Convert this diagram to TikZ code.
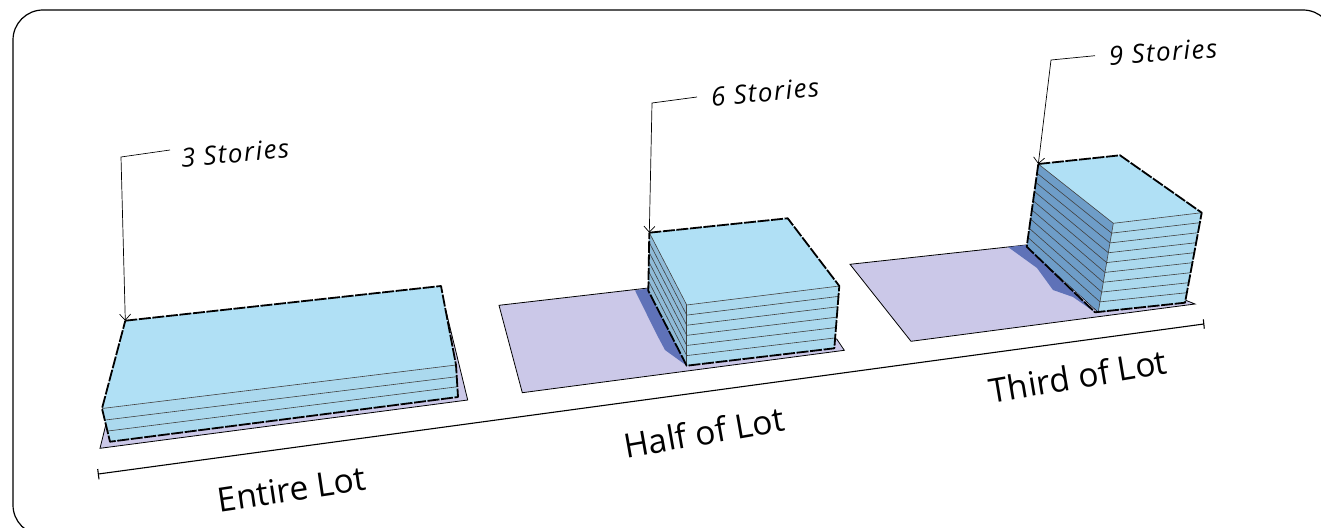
\documentclass[tikz,border=0pt]{standalone}
\usepackage{fontspec}
\setmainfont{Open Sans}
\usetikzlibrary{arrows.meta,calc}
\definecolor{roofc}{HTML}{B0E0F5}
\definecolor{frontc}{HTML}{ABD9EE}
\definecolor{sideA}{HTML}{8FBBD8}
\definecolor{sideB}{HTML}{6E9DC8}
\definecolor{lotc}{HTML}{CBC8E8}
\definecolor{shadec}{HTML}{5F72B8}
\tikzset{
  lotshape/.style={fill=lotc,draw=black,line width=0.8pt,line join=miter},
  faceline/.style={draw=black!75,line width=0.6pt},
  outline/.style={draw=black,line width=1.8pt,dash pattern=on 12pt off 1.6pt,line join=round},
  leader/.style={draw=black,line width=0.7pt,-{Straight Barb[length=6pt,width=11pt,line width=0.7pt]}},
  dim/.style={draw=black,line width=1.1pt},
  biglabel/.style={font=\fontsize{33.5}{36}\selectfont,inner sep=0pt},
  storylabel/.style={font=\itshape\fontsize{26}{28}\selectfont\addfontfeature{LetterSpace=5.5},inner sep=0pt}
}
\begin{document}
\begin{tikzpicture}[x=1pt,y=-1pt]
\useasboundingbox (0,0) rectangle (1321,527);
\begin{scope}
\clip (0,0) rectangle (1321,527);
\draw[black,line width=1.2pt,rounded corners=30pt] (13,10) rectangle (1333,535);
\end{scope}
% ---------- lot 1
\draw[lotshape] (446,311) -- (467.7,400) -- (100,448.3) -- (106,424) -- cycle;
\coordinate (a1) at (125.3,320.7);
\coordinate (a2) at (441,286);
\coordinate (a3) at (456,365);
\coordinate (a4) at (102,408.5);
\coordinate (a5) at (110,441.7);
\coordinate (a6) at (458,397);
\fill[roofc] (a1)--(a2)--(a3)--(a4)--cycle;
\fill[frontc] (a4)--(a3)--(a6)--(a5)--cycle;
\draw[faceline] (a4)--(a3);
\draw[faceline] (105.5,420)--(456.7,376.7);
\draw[faceline] (108,431)--(457.7,386.7);
\draw[outline] (a1)--(a2)--(a3)--(a6)--(a5)--(a4)--cycle;
% ---------- lot 2
\draw[lotshape] (499,305.3) -- (648.3,288) -- (700,340) -- (836.7,339) -- (844.3,350.3) -- (522.3,392.7) -- cycle;
\fill[shadec] (635,290.5)--(648.3,288.3)--(686.7,365.7)--(665,350)--(657,335)--cycle;
\coordinate (b1) at (649.3,232.7);
\coordinate (b2) at (787.7,218.3);
\coordinate (b3) at (839.3,286);
\coordinate (b4) at (686.7,305);
\coordinate (b5) at (686.7,365.7);
\coordinate (b6) at (834.3,348.3);
\coordinate (b7) at (648.3,290.7);
\fill[roofc] (b1)--(b2)--(b3)--(b4)--cycle;
\fill[frontc] (b4)--(b3)--(b6)--(b5)--cycle;
\fill[sideA] (b1)--(b4)--(b5)--(b7)--cycle;
\draw[faceline] (b1)--(b4)--(b3);
\draw[faceline] (b4)--(b5);
\foreach \k in {1,...,5}{
  \draw[faceline] ($(b4)!\k/6!(b5)$)--($(b3)!\k/6!(b6)$);
  \draw[faceline] ($(b4)!\k/6!(b5)$)--($(b1)!\k/6!(b7)$);
}
\draw[outline] (b1)--(b2)--(b3)--(b6)--(b5)--(b7)--cycle;
% ---------- lot 3
\draw[lotshape] (850,264.3) -- (1026,245) -- (1098,312) -- (1185,300) -- (1195,304) -- (911,341.3) -- cycle;
\fill[shadec] (1008,247)--(1026,245)--(1095,312.3)--(1073,297)--(1053,290)--(1037,268)--cycle;
\coordinate (c1) at (1038.3,164);
\coordinate (c2) at (1120,155.3);
\coordinate (c3) at (1201.7,212.7);
\coordinate (c4) at (1113.3,223.3);
\coordinate (c5) at (1098.3,311.7);
\coordinate (c6) at (1185,302.7);
\coordinate (c7) at (1026.7,246.7);
\fill[roofc] (c1)--(c2)--(c3)--(c4)--cycle;
\fill[frontc] (c4)--(c3)--(c6)--(c5)--cycle;
\fill[sideB] (c1)--(c4)--(c5)--(c7)--cycle;
\draw[faceline] (c1)--(c4)--(c3);
\draw[faceline] (c4)--(c5);
\foreach \k in {1,...,8}{
  \draw[faceline] ($(c4)!\k/9!(c5)$)--($(c3)!\k/9!(c6)$);
  \draw[faceline] ($(c4)!\k/9!(c5)$)--($(c1)!\k/9!(c7)$);
}
\draw[outline] (c1)--(c2)--(c3)--(c6)--(1095,312.3)--(c7)--cycle;
% ---------- dimension line
\coordinate (d1) at (98.3,474);
\coordinate (d2) at (1203.8,324);
\draw[dim] (d1)--(d2);
\draw[dim] (97.7,469)--(99,479.3);
\draw[dim] (1203.3,319.3)--(1204.3,328.7);
% ---------- labels
\node[biglabel,rotate=8.5] (entire) at (292,489) {Entire Lot};
\node[biglabel,rotate=10] (half) at (704,432) {Half of Lot};
\node[biglabel,rotate=9.5] (third) at (1078,376) {Third of Lot};
\node[storylabel,rotate=5] (s3) at (235,153) {3 Stories};
\node[storylabel,rotate=5] (s6) at (765,92) {6 Stories};
\node[storylabel,rotate=4] (s9) at (1163,52) {9 Stories};
% ---------- leaders
\coordinate (l3) at (121,157);
\coordinate (l6) at (652,103);
\coordinate (l9) at (1051,60);
\coordinate (e3) at (170,150);
\coordinate (e6) at (697,97);
\coordinate (e9) at (1095,55.7);
\draw[leader] (e3) -- (l3) -- (a1);
\draw[leader] (e6) -- (l6) -- (b1);
\draw[leader] (e9) -- (l9) -- (c1);
\end{tikzpicture}
\end{document}
